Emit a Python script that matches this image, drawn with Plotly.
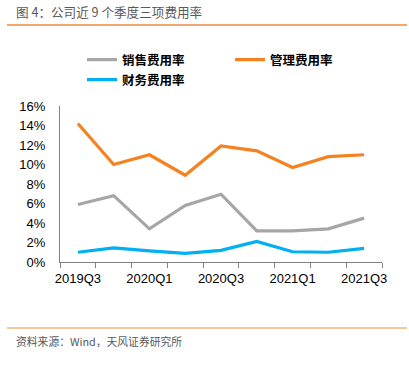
import plotly.graph_objects as go

quarters = ["2019Q3", "2019Q4", "2020Q1", "2020Q2", "2020Q3", "2020Q4", "2021Q1", "2021Q2", "2021Q3"]
tick_labels = ["2019Q3", "", "2020Q1", "", "2020Q3", "", "2021Q1", "", "2021Q3"]
sales_rate = [5.9, 6.8, 3.4, 5.8, 6.95, 3.2, 3.2, 3.4, 4.5]
admin_rate = [14.2, 10.0, 11.0, 8.9, 11.9, 11.4, 9.7, 10.8, 11.0]
finance_rate = [1.0, 1.45, 1.15, 0.88, 1.2, 2.1, 1.05, 1.0, 1.4]
series_names = ["销售费用率", "管理费用率", "财务费用率"]
title_text = "图 4：公司近 9 个季度三项费用率"
source_text = "资料来源：Wind，天风证券研究所"

W, H = 409, 367
L, T = 60, 106
R = W - 382
B = H - 262
PW, PH = W - L - R, H - T - B

def px(x):
    return (x - L) / PW

def py(y):
    return (H - B - y) / PH

fig = go.Figure()
colors = ["#A6A6A6", "#F5811F", "#00B0F0"]
legends = ["legend", "legend", "legend2"]
for name, vals, c, lg in zip(series_names, [sales_rate, admin_rate, finance_rate], colors, legends):
    fig.add_trace(go.Scatter(x=quarters, y=[v / 100 for v in vals], name=name, mode="lines",
                             legend=lg, line=dict(color=c, width=3.2)))

legend_font = dict(family="Noto Sans CJK SC", size=12.5, color="#000", weight="bold")
fig.update_layout(
    width=W, height=H,
    margin=dict(l=L, r=R, t=T, b=B, autoexpand=False),
    paper_bgcolor="white", plot_bgcolor="white",
    font=dict(family="Liberation Sans, Arial, sans-serif", size=13, color="#000"),
    showlegend=True,
    legend=dict(orientation="h", x=px(82), xanchor="left", y=py(60), yanchor="middle",
                entrywidth=103, entrywidthmode="pixels", font=legend_font,
                bgcolor="rgba(0,0,0,0)", borderwidth=0),
    legend2=dict(orientation="h", x=px(82), xanchor="left", y=py(80), yanchor="middle",
                 font=legend_font, bgcolor="rgba(0,0,0,0)", borderwidth=0),
    xaxis=dict(type="category", tickmode="array", tickvals=quarters, ticktext=tick_labels,
               tickson="boundaries", ticks="outside", ticklen=5, tickcolor="#808080",
               showline=True, linecolor="#808080", linewidth=1, showgrid=False, tickangle=0,
               ticklabelstandoff=4,
               automargin=False, tickfont=dict(size=13, color="#000"), range=[-0.5, 8.5]),
    yaxis=dict(range=[0, 0.16], dtick=0.02, tickformat=".0%", showline=True, linecolor="#808080",
               linewidth=1, showgrid=False, zeroline=False, ticks="", automargin=False,
               ticklabelstandoff=11, tickfont=dict(size=13, color="#000")),
)

fig.add_shape(type="line", xref="paper", yref="paper", x0=px(7), x1=px(407), y0=py(25), y1=py(25),
              line=dict(color="#F08A3C", width=1.5))
fig.add_shape(type="line", xref="paper", yref="paper", x0=px(7), x1=px(407), y0=py(328), y1=py(328),
              line=dict(color="#FAC898", width=2))
fig.add_annotation(text=title_text, xref="paper", yref="paper", x=px(14), y=py(12),
                   xanchor="left", yanchor="middle", showarrow=False,
                   font=dict(family="Noto Sans CJK SC", size=12.6, color="#595959"))
fig.add_annotation(text=source_text, xref="paper", yref="paper", x=px(14), y=py(341),
                   xanchor="left", yanchor="middle", showarrow=False,
                   font=dict(family="Noto Sans CJK SC", size=10.8, color="#595959"))

fig.write_html("out.html", config={"displayModeBar": False},
               post_script="document.body.style.margin='0';document.body.style.padding='0';")
